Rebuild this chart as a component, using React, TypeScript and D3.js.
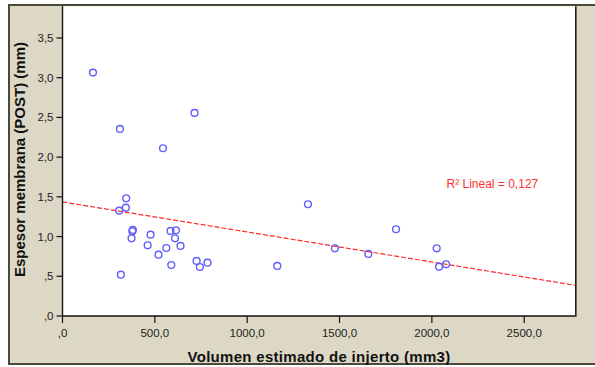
import React from "react";
import * as d3 from "d3";

const volumen: number[] = [165, 715, 311, 544, 345, 343, 307, 381, 378, 374, 477, 461, 520, 562, 585, 614, 609, 639, 589, 726, 744, 785, 1163, 316, 1329, 1475, 1656, 1806, 2026, 2039, 2077];
const espesor: number[] = [3.064, 2.557, 2.355, 2.112, 1.482, 1.364, 1.326, 1.083, 1.067, 0.978, 1.024, 0.89, 0.772, 0.856, 1.071, 1.079, 0.978, 0.882, 0.642, 0.693, 0.617, 0.671, 0.63, 0.52, 1.407, 0.852, 0.781, 1.092, 0.852, 0.621, 0.651];
const xTicks: number[] = [0, 500, 1000, 1500, 2000, 2500];
const yTicks: number[] = [0, 0.5, 1, 1.5, 2, 2.5, 3, 3.5];
const fitIntercept = 1.436;
const fitSlope = -0.000378;
const r2Label = "R² Lineal = 0,127";
const xTitle = "Volumen estimado de injerto (mm3)";
const yTitle = "Espesor membrana (POST) (mm)";

const W = 595;
const H = 367;
const plot = { left: 62.5, right: 575, top: 6.2, bottom: 316 };

const fmt = (v: number) => {
  const s = v.toFixed(1).replace(".", ",");
  return s.startsWith("0,") ? s.slice(1) : s;
};

export default function App() {
  const x = d3.scaleLinear().domain([0, 2775]).range([plot.left, plot.right]);
  const y = d3.scaleLinear().domain([0, 3.9]).range([plot.bottom, plot.top]);
  const fitLine = d3.line<number>().x((d) => x(d)).y((d) => y(fitIntercept + fitSlope * d));
  const font = "'Liberation Sans', Arial, sans-serif";
  return (
    <svg width={W} height={H} style={{ position: "absolute", left: 0, top: 0 }} fontFamily={font}>
      <rect x={0} y={0} width={W} height={H} fill="#ffffff" />
      <rect x={9} y={5} width={W} height={359} fill="#dcd8c5" stroke="#4a4a3a" strokeWidth={2} />
      <rect x={plot.left} y={plot.top} width={plot.right - plot.left} height={plot.bottom - plot.top} fill="#ffffff" />
      <line x1={plot.right + 0.8} x2={plot.right + 0.8} y1={plot.top} y2={plot.bottom + 0.8} stroke="#222" strokeWidth={1.6} />
      <line x1={plot.left} x2={plot.right + 1.6} y1={plot.top - 0.8} y2={plot.top - 0.8} stroke="#4a4a3a" strokeWidth={1.2} />
      {/* fit line */}
      <path d={fitLine(x.domain()) || ""} fill="none" stroke="#ff2a2a" strokeWidth={1.2} strokeDasharray="5,2" />
      {/* points */}
      {volumen.map((v, i) => (
        <circle key={i} cx={x(v)} cy={y(espesor[i])} r={3.4} fill="none" stroke="#5f5ffa" strokeWidth={1.4} />
      ))}
      {/* axes */}
      <line x1={plot.left} x2={plot.left} y1={plot.top} y2={plot.bottom} stroke="#111" strokeWidth={1.4} />
      <line x1={plot.left} x2={plot.right} y1={plot.bottom} y2={plot.bottom} stroke="#111" strokeWidth={1.4} />
      {yTicks.map((t) => (
        <g key={"y" + t}>
          <line x1={plot.left - 6} x2={plot.left} y1={y(t)} y2={y(t)} stroke="#111" strokeWidth={1.2} />
          <text x={plot.left - 9} y={y(t)} dy="0.35em" textAnchor="end" fontSize={11.5} fill="#222">{fmt(t)}</text>
        </g>
      ))}
      {xTicks.map((t) => (
        <g key={"x" + t}>
          <line x1={x(t)} x2={x(t)} y1={plot.bottom} y2={plot.bottom + 7} stroke="#111" strokeWidth={1.2} />
          <text x={x(t)} y={337} textAnchor="middle" fontSize={11.5} fill="#222">{fmt(t)}</text>
        </g>
      ))}
      <text x={319} y={362} textAnchor="middle" fontSize={15} fontWeight="bold" fill="#111" letterSpacing={0.3}>{xTitle}</text>
      <text transform={`translate(24.5,159.5) rotate(-90)`} textAnchor="middle" fontSize={15} fontWeight="bold" fill="#111">{yTitle}</text>
      <text x={446.5} y={187.5} fontSize={12} fill="#ff3030">{r2Label}</text>
    </svg>
  );
}
